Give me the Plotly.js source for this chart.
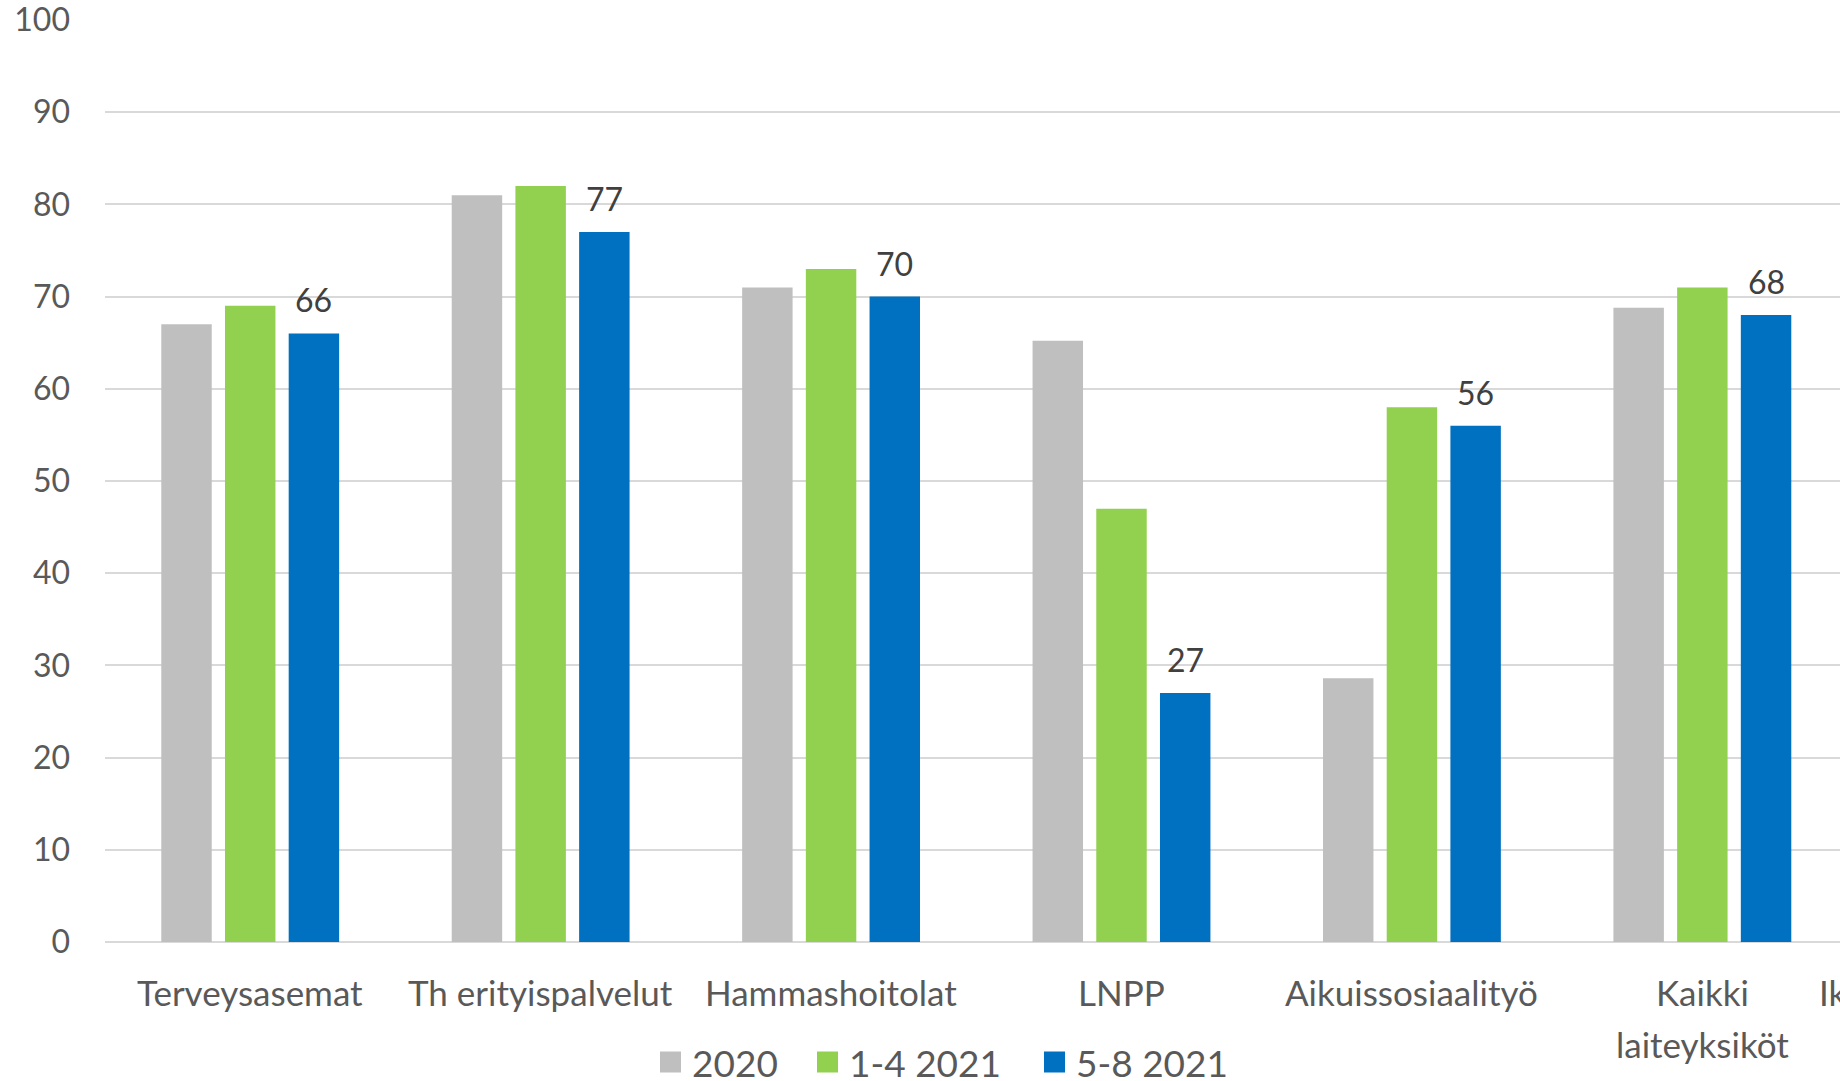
<!DOCTYPE html>
<html>
<head>
<meta charset="utf-8">
<script src="https://cdn.plot.ly/plotly-3.0.1.min.js"></script>
<style>
  html, body { margin: 0; padding: 0; background: #ffffff; overflow: hidden; }
  #chart { width: 2160px; height: 1081px; }
</style>
</head>
<body>
<div id="chart"></div>
<script>
// Units and their tick labels
const categories = ['Terveysasemat', 'Th erityispalvelut', 'Hammashoitolat', 'LNPP',
                    'Aikuissosiaalityö', 'Kaikki laiteyksiköt', 'Ikääntyneiden palvelut'];
const tickLabels = ['Terveysasemat', 'Th erityispalvelut', 'Hammashoitolat', 'LNPP',
                    'Aikuissosiaalityö', 'Kaikki<br>laiteyksiköt', 'Ikääntyneiden palvelut'];

// Series
const seriesNames = ['2020', '1-4 2021', '5-8 2021'];
const values2020 = [67, 81, 71, 65.2, 28.6, 68.8, null];
const values2021a = [69, 82, 73, 47, 58, 71, null];
const values2021b = [66, 77, 70, 27, 56, 68, null];

const yTicks = [0, 10, 20, 30, 40, 50, 60, 70, 80, 90, 100];

// Styling
const colors = ['#BFBFBF', '#92D050', '#0070C0'];
const FONT = 'Lato, "Open Sans", sans-serif';
const axisGrey = '#595959';

// Plot geometry (px)
const M = { l: 105, r: 22, t: 20, b: 139 };
const FIG_W = 2160, FIG_H = 1081;
const PW = FIG_W - M.l - M.r;
const PH = FIG_H - M.t - M.b;
const BARGAP = 0.342, GROUPGAP = 0.208;
const catPx = PW / categories.length;
const slotPx = catPx * (1 - BARGAP) / 3;

const seriesValues = [values2020, values2021a, values2021b];
const traces = seriesValues.map((vals, i) => ({
  type: 'bar',
  name: seriesNames[i],
  x: categories,
  y: vals,
  marker: { color: colors[i], line: { width: 0 } },
  showlegend: false,
  hoverinfo: 'x+y+name'
}));

// Value labels above the latest series
const labelAnnotations = categories.map((c, i) => values2021b[i] == null ? null : ({
  x: c, y: values2021b[i], xref: 'x', yref: 'y',
  xshift: slotPx, yshift: 12,
  xanchor: 'center', yanchor: 'bottom',
  text: String(values2021b[i]),
  showarrow: false,
  font: { family: FONT, size: 32, color: '#404040' }
})).filter(a => a);

// Category labels under the axis, one annotation per text line
const CAT_LINE1 = 50, CAT_LINE_STEP = 52;
const categoryAnnotations = [];
categories.forEach((c, i) => {
  tickLabels[i].split('<br>').forEach((line, k) => {
    categoryAnnotations.push({
      x: c, xref: 'x', y: 0, yref: 'paper',
      yshift: -(CAT_LINE1 + k * CAT_LINE_STEP),
      xanchor: 'center', yanchor: 'middle',
      text: line, showarrow: false,
      font: { family: FONT, size: 35, color: axisGrey }
    });
  });
});

// Legend drawn below the axis: coloured square + series name
const px2x = p => (p - M.l) / PW;
const px2y = p => (FIG_H - M.b - p) / PH;
const legendStartPx = [660, 817, 1044];
const legendMidPx = 1062;
const SQ = 21;
const legendShapes = seriesNames.map((n, i) => ({
  type: 'rect', xref: 'paper', yref: 'paper',
  x0: px2x(legendStartPx[i]), x1: px2x(legendStartPx[i] + SQ),
  y0: px2y(legendMidPx + SQ / 2), y1: px2y(legendMidPx - SQ / 2),
  fillcolor: colors[i], line: { width: 0 }
}));
const legendTexts = seriesNames.map((n, i) => ({
  xref: 'paper', yref: 'paper',
  x: px2x(legendStartPx[i] + SQ + 9), y: px2y(legendMidPx),
  xanchor: 'left', yanchor: 'middle',
  text: n, showarrow: false,
  font: { family: FONT, size: 37, color: axisGrey }
}));

const layout = {
  width: FIG_W, height: FIG_H,
  margin: M,
  paper_bgcolor: '#ffffff', plot_bgcolor: '#ffffff',
  barmode: 'group', bargap: BARGAP, bargroupgap: GROUPGAP,
  showlegend: false,
  font: { family: FONT, color: axisGrey },
  xaxis: {
    type: 'category',
    showticklabels: false,
    ticks: '', showgrid: false, zeroline: false,
    showline: false,
    range: [-0.5, categories.length - 0.5]
  },
  yaxis: {
    range: [0, 100], tickvals: yTicks,
    tickfont: { family: FONT, size: 32, color: axisGrey },
    ticks: '', showgrid: true, gridcolor: '#D9D9D9', gridwidth: 2,
    zeroline: true, zerolinecolor: '#D9D9D9', zerolinewidth: 2,
    showline: false, ticklabelstandoff: 34,
    ticklabeloverflow: 'allow'
  },
  shapes: legendShapes,
  annotations: labelAnnotations.concat(categoryAnnotations, legendTexts)
};

Plotly.newPlot('chart', traces, layout, { displayModeBar: false, staticPlot: true });
</script>
</body>
</html>
